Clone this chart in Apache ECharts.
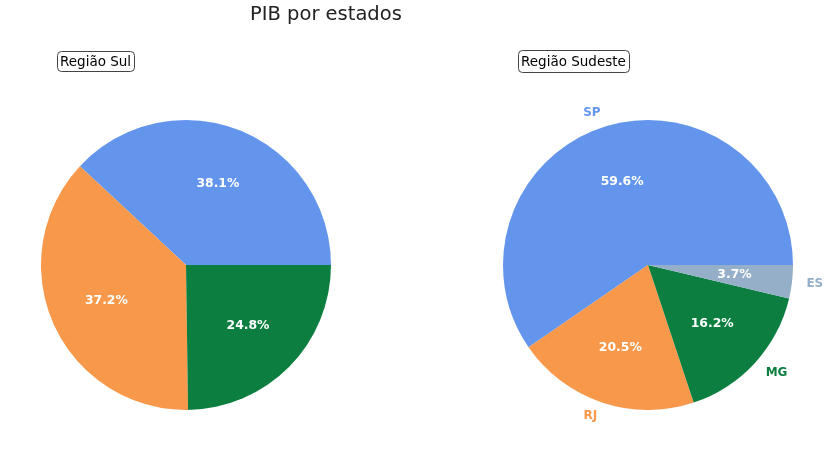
<!DOCTYPE html>
<html>
<head>
<meta charset="utf-8">
<script src="https://cdn.jsdelivr.net/npm/echarts@6/dist/echarts.min.js"></script>
<style>
html,body{margin:0;padding:0;background:#fff;}
#chart{width:836px;height:452px;}
</style>
</head>
<body>
<div id="chart"></div>
<script>
const mainTitle = 'PIB por estados';
const sulTitle = 'Região Sul';
const sudesteTitle = 'Região Sudeste';
const sulStates = ['PR', 'RS', 'SC'];
const sulValues = [38.1, 37.2, 24.8];
const sudesteStates = ['SP', 'RJ', 'MG', 'ES'];
const sudesteValues = [59.6, 20.5, 16.2, 3.7];
const sulColors = ['#6495ED', '#F8984A', '#0C7F40'];
const sudesteColors = ['#6495ED', '#F8984A', '#0C7F40', '#94AFC7'];

const FONT = 'DejaVu Sans';
const R = 145;

function mainPie(center, names, values, colors, showNames) {
  return {
    type: 'pie', center: center, radius: [0, R], startAngle: 0, clockwise: false,
    avoidLabelOverlap: false, silent: true, emphasis: { disabled: true },
    itemStyle: { borderWidth: 0 },
    label: showNames ? {
      show: true, position: 'outside', distanceToLabelLine: 0,
      fontFamily: FONT, fontSize: 12, fontWeight: 'bold',
      formatter: '{b}'
    } : { show: false },
    labelLine: { show: false, length: R * 0.1, length2: 0 },
    data: names.map((n, i) => ({
      name: n, value: values[i], itemStyle: { color: colors[i] },
      label: showNames ? { color: colors[i] } : undefined
    }))
  };
}

function pctPie(center, names, values) {
  return {
    type: 'pie', center: center, radius: [0, R * 1.16], startAngle: 0, clockwise: false,
    avoidLabelOverlap: false, silent: true, emphasis: { disabled: true }, z: 5,
    itemStyle: { color: 'rgba(0,0,0,0)', borderWidth: 0 },
    label: {
      show: true, position: 'inside', fontFamily: FONT, fontSize: 12.4, fontWeight: 'bold',
      color: '#fff', formatter: p => p.value.toFixed(1) + '%'
    },
    labelLine: { show: false },
    data: names.map((n, i) => ({ name: n, value: values[i] }))
  };
}

const chart = echarts.init(document.getElementById('chart'), null, { renderer: 'canvas' });
chart.setOption({
  backgroundColor: '#ffffff',
  animation: false,
  title: [
    { text: mainTitle, left: 250, top: 5, padding: 0,
      textStyle: { fontFamily: FONT, fontSize: 19.5, fontWeight: 'normal', color: '#222' } },
    { text: sulTitle, left: 57, top: 51, padding: [4, 4, 3, 3], borderWidth: 1, borderColor: '#444', borderRadius: 4,
      textStyle: { fontFamily: FONT, fontSize: 13.5, fontWeight: 'normal', color: '#000' } },
    { text: sudesteTitle, left: 518, top: 50, padding: [5, 4, 4, 3], borderWidth: 1, borderColor: '#444', borderRadius: 4,
      textStyle: { fontFamily: FONT, fontSize: 13.5, fontWeight: 'normal', color: '#000' } }
  ],
  series: [
    mainPie([186, 265], sulStates, sulValues, sulColors, false),
    pctPie([186, 265], sulStates, sulValues),
    mainPie([648, 265], sudesteStates, sudesteValues, sudesteColors, true),
    pctPie([648, 265], sudesteStates, sudesteValues)
  ]
});
</script>
</body>
</html>
